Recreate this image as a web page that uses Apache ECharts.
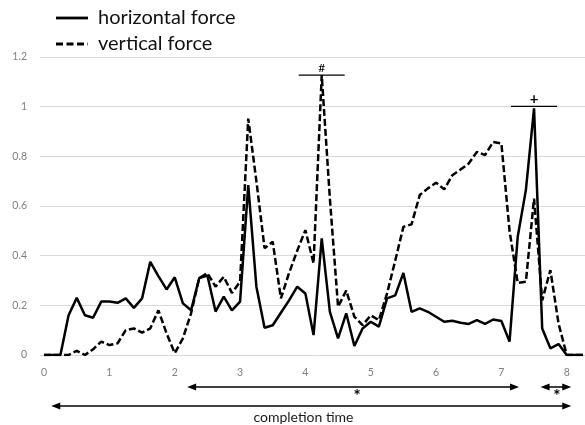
<!DOCTYPE html>
<html>
<head>
<meta charset="utf-8">
<script src="https://cdn.jsdelivr.net/npm/echarts@6/dist/echarts.min.js"></script>
<style>
  html, body { margin: 0; padding: 0; background: #ffffff; }
  #chart { width: 585px; height: 425px; }
</style>
</head>
<body>
<div id="chart"></div>
<script>
// time (s), sampled every 1/8 s
const times = [0, 0.125, 0.25, 0.375, 0.5, 0.625, 0.75, 0.875,
  1, 1.125, 1.25, 1.375, 1.5, 1.625, 1.75, 1.875,
  2, 2.125, 2.25, 2.375, 2.5, 2.625, 2.75, 2.875,
  3, 3.125, 3.25, 3.375, 3.5, 3.625, 3.75, 3.875,
  4, 4.125, 4.25, 4.375, 4.5, 4.625, 4.75, 4.875,
  5, 5.125, 5.25, 5.375, 5.5, 5.625, 5.75, 5.875,
  6, 6.125, 6.25, 6.375, 6.5, 6.625, 6.75, 6.875,
  7, 7.125, 7.25, 7.375, 7.5, 7.625, 7.75, 7.875,
  8, 8.125, 8.25];

const horizontalForce = [0, 0, 0, 0.16, 0.23, 0.16, 0.15, 0.215,
  0.215, 0.21, 0.228, 0.19, 0.228, 0.375, 0.318, 0.264,
  0.313, 0.208, 0.18, 0.31, 0.32, 0.175, 0.235, 0.18,
  0.215, 0.684, 0.275, 0.11, 0.12, 0.17, 0.22, 0.275,
  0.248, 0.08, 0.47, 0.174, 0.067, 0.168, 0.036, 0.107,
  0.134, 0.114, 0.228, 0.24, 0.33, 0.174, 0.188, 0.174,
  0.154, 0.134, 0.138, 0.13, 0.125, 0.14, 0.125, 0.143,
  0.137, 0.054, 0.476, 0.664, 0.993, 0.107, 0.027, 0.044,
  0, 0, 0];

const verticalForce = [0, 0, 0, 0, 0.017, 0, 0.023, 0.054,
  0.04, 0.047, 0.1, 0.107, 0.09, 0.107, 0.18, 0.087,
  0.007, 0.067, 0.168, 0.31, 0.33, 0.275, 0.315, 0.25,
  0.295, 0.952, 0.70, 0.43, 0.456, 0.228, 0.33, 0.42,
  0.503, 0.369, 1.127, 0.63, 0.194, 0.26, 0.154, 0.12,
  0.16, 0.14, 0.248, 0.38, 0.516, 0.526, 0.644, 0.671,
  0.694, 0.667, 0.724, 0.747, 0.771, 0.818, 0.805, 0.858,
  0.852, 0.5, 0.29, 0.295, 0.63, 0.22, 0.342, 0.127,
  0, 0, 0];

const xTickLabels = [0, 1, 2, 3, 4, 5, 6, 7, 8];
const seriesNames = ['horizontal force', 'vertical force'];

// annotations: peak markers and time spans (in data units)
const peakMarks = [
  { series: 1, index: 34, symbol: '#' },
  { series: 0, index: 60, symbol: '+' }
];
const spans = [
  { from: 2.19, to: 7.27, row: 0, label: '*', labelAt: 4.79 },
  { from: 7.6, to: 8.07, row: 0, label: '*', labelAt: 7.85 },
  { from: 0.11, to: 8.07, row: 1, label: 'completion time', labelAt: 3.97 }
];

const chart = echarts.init(document.getElementById('chart'), null, { renderer: 'canvas' });
const FONT = 'Lato, "Open Sans", "DejaVu Sans", sans-serif';
const LINE_W = 2.5;
const DASH = [7, 3];

const option = {
  animation: false,
  backgroundColor: '#ffffff',
  grid: { left: 40, right: 0, top: 57, bottom: 70, containLabel: false },
  legend: { show: false, data: seriesNames },
  xAxis: {
    type: 'value',
    min: -0.0625,
    max: 8.28,
    axisLine: { show: true, onZero: false, lineStyle: { color: '#d9d9d9', width: 1 } },
    axisTick: { show: false },
    splitLine: { show: false },
    axisLabel: {
      customValues: xTickLabels,
      color: '#808080',
      fontSize: 10.5,
      margin: 12,
      fontFamily: FONT
    }
  },
  yAxis: {
    type: 'value',
    min: 0,
    max: 1.2,
    interval: 0.2,
    axisLine: { show: false },
    axisTick: { show: false },
    splitLine: { lineStyle: { color: '#d9d9d9', width: 1 } },
    axisLabel: {
      color: '#808080',
      fontSize: 10.5,
      margin: 13,
      fontFamily: FONT,
      formatter: function (v) { return String(+v.toFixed(1)); }
    }
  },
  series: [
    {
      name: seriesNames[0],
      type: 'line',
      symbol: 'none',
      color: '#000000',
      lineStyle: { color: '#000000', width: LINE_W },
      data: times.map((t, i) => [t, horizontalForce[i]]),
      z: 3
    },
    {
      name: seriesNames[1],
      type: 'line',
      symbol: 'none',
      color: '#000000',
      lineStyle: { color: '#000000', width: LINE_W, type: DASH },
      data: times.map((t, i) => [t, verticalForce[i]]),
      z: 2
    }
  ]
};

chart.setOption(option);

const graphics = [];

// custom legend (line keys + names)
const legendRows = [18, 44];
seriesNames.forEach(function (name, i) {
  const y = legendRows[i];
  graphics.push({
    type: 'line',
    shape: { x1: 56, y1: y, x2: 88, y2: y },
    style: { stroke: '#000000', lineWidth: 2.8, lineDash: i === 1 ? [7, 3.5] : null }
  });
  graphics.push({
    type: 'text',
    x: 98,
    y: y,
    style: { text: name, fill: '#111111', font: '20px ' + FONT, align: 'left', verticalAlign: 'middle' }
  });
});

// peak markers
const dataSets = [horizontalForce, verticalForce];
peakMarks.forEach(function (m) {
  const p = chart.convertToPixel({ gridIndex: 0 }, [times[m.index], dataSets[m.series][m.index]]);
  const ly = m.symbol === '+' ? p[1] - 2 : p[1];
  graphics.push({
    type: 'line',
    shape: { x1: p[0] - 23, y1: ly, x2: p[0] + 23, y2: ly },
    style: { stroke: '#000000', lineWidth: 1.3 }
  });
  graphics.push({
    type: 'text',
    x: p[0],
    y: ly - 7,
    style: {
      text: m.symbol,
      fill: '#000000',
      font: (m.symbol === '+' ? 'bold 15px ' : '12px ') + FONT,
      align: 'center',
      verticalAlign: 'middle'
    }
  });
});

// time spans with double arrows
const rowY = [387, 406];
spans.forEach(function (s) {
  const a = chart.convertToPixel({ gridIndex: 0 }, [s.from, 0])[0];
  const b = chart.convertToPixel({ gridIndex: 0 }, [s.to, 0])[0];
  const c = chart.convertToPixel({ gridIndex: 0 }, [s.labelAt, 0])[0];
  const y = rowY[s.row];
  graphics.push({
    type: 'line',
    shape: { x1: a + 6, y1: y, x2: b - 6, y2: y },
    style: { stroke: '#000000', lineWidth: 1.5 }
  });
  graphics.push({
    type: 'polygon',
    shape: { points: [[a, y], [a + 9, y - 3.5], [a + 9, y + 3.5]] },
    style: { fill: '#000000' }
  });
  graphics.push({
    type: 'polygon',
    shape: { points: [[b, y], [b - 9, y - 3.5], [b - 9, y + 3.5]] },
    style: { fill: '#000000' }
  });
  if (s.label === '*') {
    graphics.push({
      type: 'text',
      x: c,
      y: y + 10,
      style: { text: '*', fill: '#000000', font: 'bold 17px ' + FONT, align: 'center', verticalAlign: 'middle' }
    });
  } else {
    graphics.push({
      type: 'text',
      x: c,
      y: y + 11,
      style: { text: s.label, fill: '#1a1a1a', font: '14px ' + FONT, align: 'center', verticalAlign: 'middle' }
    });
  }
});

chart.setOption({ graphic: graphics });
</script>
</body>
</html>
